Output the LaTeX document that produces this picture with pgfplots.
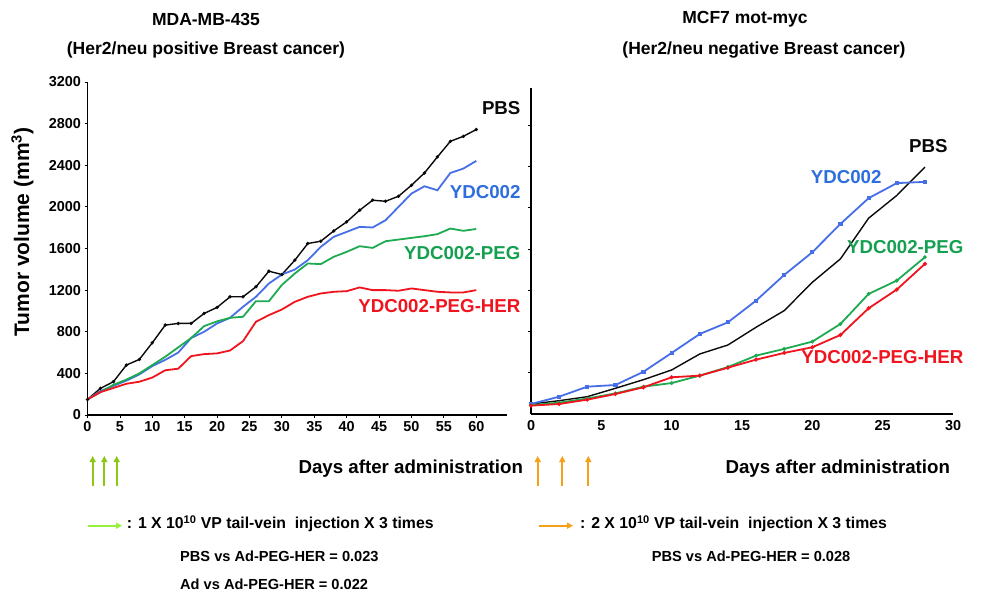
\documentclass[border=0pt]{standalone}
\usepackage{fontspec}
\setmainfont{Liberation Sans}
\usepackage{pgfplots}
\pgfplotsset{compat=1.18}
\usetikzlibrary{arrows.meta}

\definecolor{pbs}{RGB}{10,10,10}
\definecolor{ydc}{RGB}{70,110,230}
\definecolor{ydctxt}{RGB}{45,110,220}
\definecolor{peg}{RGB}{30,170,80}
\definecolor{pegtxt}{RGB}{20,160,80}
\definecolor{her}{RGB}{240,20,30}
\definecolor{lime}{RGB}{140,200,20}
\definecolor{limeb}{RGB}{150,240,60}
\definecolor{orng}{RGB}{245,160,25}

\newcommand{\fs}[1]{\fontsize{#1}{#1}\selectfont\bfseries}

\pgfplotsset{
  tumor/.style={
    scale only axis,
    axis x line=bottom, axis y line=left,
    axis line style={-, line width=1.2pt},
    tick align=outside, major tick length=3pt,
    tick style={black, line width=0.8pt},
    ticklabel style={font=\fs{14.4}},
    /pgf/number format/assume math mode=true,
    /pgf/number format/1000 sep={},
    clip=false,
  },
}

\begin{document}
\begin{tikzpicture}[x=1pt,y=1pt]
\path[use as bounding box] (0,0) rectangle (981,-599);

% titles
\node[font=\fs{17.5}] at (206,-19) {MDA-MB-435};
\node[font=\fs{17.5}] at (206,-50) {(Her2/neu positive Breast cancer)};
\node[font=\fs{17.5}] at (745,-19) {MCF7 mot-myc};
\node[font=\fs{17.5}] at (764,-50) {(Her2/neu negative Breast cancer)};

% left panel
\begin{axis}[tumor, at={(87.5pt,-415pt)}, anchor=south west,
  width=419.5pt, height=333pt,
  xmin=0, xmax=64.74, ymin=0, ymax=3200,
  xtick={0,5,...,60}, ytick={0,400,...,3200}]
\addplot[pbs, line width=1.4pt, mark=*, mark size=0.9pt] coordinates {
(0,150) (2,256) (4,320) (6,480) (8,534) (10,694) (12,864) (14,880) (16,880)
(18,976) (20,1034) (22,1136) (24,1136) (26,1232) (28,1382) (30,1350) (32,1488)
(34,1648) (36,1670) (38,1769) (40,1856) (42,1968) (44,2064) (46,2054) (48,2102)
(50,2208) (52,2326) (54,2480) (56,2630) (58,2678) (60,2743)};
\addplot[ydc, line width=1.8pt, mark=none] coordinates {
(0,150) (2,230) (4,280) (6,330) (8,390) (10,470) (12,530) (14,600) (16,740)
(18,800) (20,880) (22,934) (24,1040) (26,1136) (28,1264) (30,1350) (32,1398)
(34,1488) (36,1616) (38,1712) (40,1760) (42,1808) (44,1802) (46,1872) (48,2000)
(50,2128) (52,2198) (54,2160) (56,2326) (58,2368) (60,2442)};
\addplot[peg, line width=1.8pt, mark=none] coordinates {
(0,150) (2,220) (4,290) (6,340) (8,400) (10,480) (12,560) (14,650) (16,740)
(18,854) (20,900) (22,934) (24,944) (26,1094) (28,1094) (30,1250) (32,1360)
(34,1456) (36,1450) (38,1520) (40,1568) (42,1622) (44,1606) (46,1670) (48,1686)
(50,1702) (52,1718) (54,1738) (56,1792) (58,1770) (60,1788)};
\addplot[her, line width=1.8pt, mark=none] coordinates {
(0,150) (2,220) (4,260) (6,300) (8,320) (10,360) (12,430) (14,445) (16,566)
(18,585) (20,592) (22,620) (24,710) (26,896) (28,960) (30,1014) (32,1088)
(34,1136) (36,1168) (38,1184) (40,1190) (42,1226) (44,1200) (46,1200) (48,1194)
(50,1216) (52,1200) (54,1184) (56,1178) (58,1178) (60,1200)};
\end{axis}

% right panel
\begin{axis}[tumor, at={(531pt,-414pt)}, anchor=south west,
  width=422pt, height=326pt,
  xmin=0, xmax=30, ymin=0, ymax=3160,
  xtick={0,5,...,30}, ytick={400,800,...,2800}, yticklabels={},
  x tick style={draw=none}]
\addplot[pbs, line width=1.4pt, mark=none] coordinates {
(0,97) (2,129) (4,168) (6,249) (8,333) (10,427) (12,582) (14,669) (16,841)
(18,1002) (20,1277) (22,1504) (24,1898) (26,2118) (28,2393)};
\addplot[ydc, line width=1.8pt, mark=square*, mark size=1.2pt] coordinates {
(0,97) (2,168) (4,265) (6,281) (8,410) (10,592) (12,776) (14,889) (16,1099)
(18,1348) (20,1568) (22,1843) (24,2092) (26,2238) (28,2250)};
\addplot[peg, line width=1.8pt, mark=*, mark size=0.9pt] coordinates {
(0,85) (2,110) (4,150) (6,200) (8,265) (10,300) (12,372) (14,455) (16,566)
(18,631) (20,702) (22,873) (24,1164) (26,1293) (28,1520)};
\addplot[her, line width=1.8pt, mark=*, mark size=1pt] coordinates {
(0,81) (2,97) (4,139) (6,194) (8,259) (10,356) (12,372) (14,449) (16,527)
(18,592) (20,647) (22,766) (24,1025) (26,1206) (28,1455)};
\end{axis}

% y label
\node[font=\fs{21}, rotate=90] at (22.5,-232) {Tumor volume (mm\textsuperscript{3})};

% series labels, left
\node[font=\fs{18.7}, anchor=east, text=pbs] at (524,-108) {PBS};
\node[font=\fs{18.7}, anchor=east, text=ydctxt] at (524,-192) {YDC002};
\node[font=\fs{18.7}, anchor=east, text=pegtxt] at (524,-253) {YDC002-PEG};
\node[font=\fs{18.7}, anchor=east, text=her] at (524,-306) {YDC002-PEG-HER};
% series labels, right
\node[font=\fs{18.7}, anchor=east, text=pbs] at (951,-146) {PBS};
\node[font=\fs{18.7}, anchor=east, text=ydctxt] at (885,-177) {YDC002};
\node[font=\fs{18.7}, anchor=east, text=pegtxt] at (967,-247) {YDC002-PEG};
\node[font=\fs{18.7}, anchor=east, text=her] at (967,-357) {YDC002-PEG-HER};

% axis titles
\node[font=\fs{18.7}, anchor=west] at (295,-469) {Days after administration};
\node[font=\fs{18.7}, anchor=west] at (722,-469) {Days after administration};

% injection arrows
\foreach \x in {92.7,104.3,116.7}
  \draw[lime, line width=2.2pt, -{Triangle[length=6pt,width=6pt]}] (\x,-486) -- (\x,-456);
\foreach \x in {537.7,562.3,588.3}
  \draw[orng, line width=2pt, -{Triangle[length=6pt,width=6pt]}] (\x,-486) -- (\x,-456);

% legend lines
\draw[limeb, line width=2.2pt, -{Triangle[length=6pt,width=6pt]}] (88,-525.7) -- (122,-525.7);
\node[font=\fs{15.8}, anchor=west, inner sep=0pt] at (126.7,-523.5) {: 1 X 10\textsuperscript{10} VP tail-vein \ injection X 3 times};
\draw[orng, line width=2.2pt, -{Triangle[length=6pt,width=6pt]}] (539,-525.7) -- (573,-525.7);
\node[font=\fs{15.8}, anchor=west, inner sep=0pt] at (580,-523.5) {: 2 X 10\textsuperscript{10} VP tail-vein \ injection X 3 times};

% p-values
\node[font=\fs{14.6}, anchor=west, inner sep=0pt] at (180,-556.7) {PBS vs Ad-PEG-HER = 0.023};
\node[font=\fs{14.6}, anchor=west, inner sep=0pt] at (180,-584) {Ad vs Ad-PEG-HER = 0.022};
\node[font=\fs{14.6}, anchor=west, inner sep=0pt] at (651.7,-556.7) {PBS vs Ad-PEG-HER = 0.028};
\end{tikzpicture}
\end{document}
